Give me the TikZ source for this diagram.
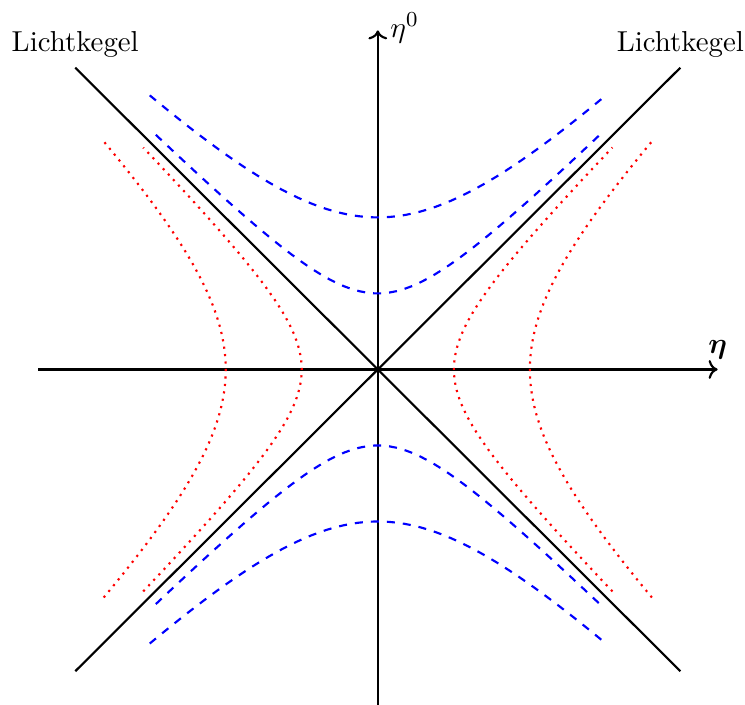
\documentclass[tikz,border=0pt]{standalone}
\usepackage{amsmath}
\usepackage{amssymb}
\usepackage{bm}
\usepackage{xcolor}
\usepackage{tikz}
\usetikzlibrary{arrows.meta,positioning,calc}

\begin{document}
\begin{tikzpicture}[
    axis/.style={->, thick},
    cone/.style={thick},
    timelike/.style={thick, dashed, blue},
    spacelike/.style={thick, dotted, red},
    lbl/.style={font=\fontsize{10.8pt}{13pt}\selectfont}
]
    \useasboundingbox (-4.97,-4.41) rectangle (4.83,4.86);

    % axes
    \coordinate (xl) at (-4.47,0);
    \coordinate (xr) at (4.47,0);
    \coordinate (yb) at (0,-4.41);
    \coordinate (yt) at (0,4.46);
    \draw [axis] (xl) -- (xr) node [above, lbl] (eta) {$\bm{\eta}$};
    \draw [axis] (yb) -- (yt) node [right, lbl, xshift=1pt, yshift=1pt] (eta0) {$\eta^0$};

    % light cone
    \coordinate (cbl) at (-3.98,-3.97);
    \coordinate (ctr) at (3.98,3.97);
    \coordinate (ctl) at (-3.98,3.97);
    \coordinate (cbr) at (3.98,-3.97);
    \draw [cone] (cbl) -- (ctr) node [above, lbl] (lk2) {Lichtkegel};
    \draw [cone] (cbr) -- (ctl) node [above, lbl] (lk1) {Lichtkegel};

    % hyperbolas
    \foreach \a/\r in {1/2.92, 2/3} {
        \draw [timelike] plot [domain=-\r:\r, samples=60] (\x, {sqrt(\x*\x+\a*\a)});
        \draw [timelike] plot [domain=-\r:\r, samples=60] (\x, {-sqrt(\x*\x+\a*\a)});
        \draw [spacelike] plot [domain=-\r:\r, samples=60] ({sqrt(\x*\x+\a*\a)}, \x);
        \draw [spacelike] plot [domain=-\r:\r, samples=60] ({-sqrt(\x*\x+\a*\a)}, \x);
    }
\end{tikzpicture}
\end{document}
